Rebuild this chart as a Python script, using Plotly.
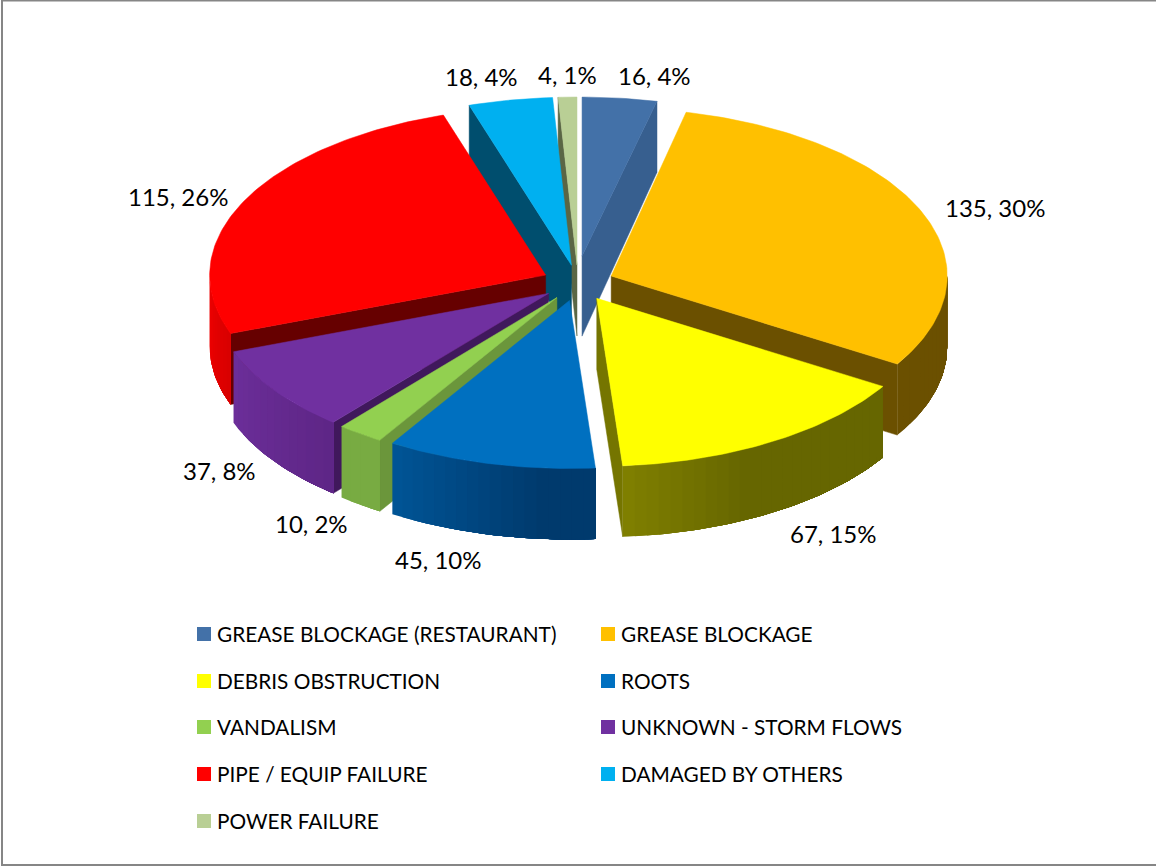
import math
import plotly.graph_objects as go

# ---- data ----
categories = ["GREASE BLOCKAGE (RESTAURANT)", "GREASE BLOCKAGE", "DEBRIS OBSTRUCTION", "ROOTS",
              "VANDALISM", "UNKNOWN - STORM FLOWS", "PIPE / EQUIP FAILURE", "DAMAGED BY OTHERS", "POWER FAILURE"]
values = [16, 135, 67, 45, 10, 37, 115, 18, 4]

# ---- styles ----
top_colors = ["#4371A8", "#FFC000", "#FFFF00", "#0070C0", "#92D050", "#7030A0", "#FF0000", "#00B0F0", "#B9CF95"]
rim_left = ["#375F8F", "#6B5000", "#808000", "#005597", "#78AB42", "#6C2E9A", "#F00000", "#004E6E", "#5A6645"]
rim_right = ["#375F8F", "#6B5000", "#666600", "#003A6D", "#78AB42", "#5E2686", "#D80000", "#004E6E", "#5A6645"]
rim_reach = [1, 1, 0.4, 0.75, 1, 1, 1, 1, 1]
radial_colors = ["#375F8F", "#6B5000", "#757500", "#005597", "#6B963B", "#40185C", "#660000", "#004E6E", "#5A6645"]
apex_lift = [9, 0, 0, 0, 0, 0, 0, 0, 0]
draw_order = [0, 8, 7, 1, 6, 5, 4, 2, 3]

# ---- layout constants (pixels of the 1156x867 page) ----
W, H = 1156, 867
CX, CY, RX, RY, EX, EY, DEPTH = 578, 283, 336, 168, 36, 18, 71
FONT = "Lato"
LABEL_SIZE = 24
LEGEND_SIZE = 20.8
label_pos = [(654, 75), (995, 207), (833, 533), (438, 559), (311, 523), (219, 470), (178, 196), (481, 76), (567, 74)]
legend_pos = [(197, 633), (601, 633), (197, 680), (601, 680), (197, 726), (601, 726), (197, 773), (601, 773), (197, 820)]
swatch_y_shift = 1


def hex2rgb(c):
    return [int(c[i:i + 2], 16) for i in (1, 3, 5)]


def mix(a, b, t):
    ra, rb = hex2rgb(a), hex2rgb(b)
    return "rgb(%d,%d,%d)" % tuple(round(x + (y - x) * t) for x, y in zip(ra, rb))


def poly(xs, ys, color, width=0.5):
    return go.Scatter(x=xs, y=ys, mode="lines", fill="toself", fillcolor=color,
                      line=dict(color=color, width=width), hoverinfo="skip", showlegend=False)


def rim_xy(ax, ay, a):
    r = math.radians(a)
    return ax + RX * math.sin(r), ay - RY * math.cos(r)


fig = go.Figure()
total = sum(values)
angles = [0]
for v in values:
    angles.append(angles[-1] + 360 * v / total)

for i in draw_order:
    s, e = angles[i], angles[i + 1]
    m = math.radians((s + e) / 2)
    ax, ay = CX + EX * math.sin(m), CY - EY * math.cos(m)
    ay_top = ay - apex_lift[i]

    # radial faces
    for a, visible in ((s, math.sin(math.radians(s)) < -1e-6), (e, math.sin(math.radians(e)) > 1e-6)):
        if visible:
            px, py = rim_xy(ax, ay, a)
            fig.add_trace(poly([ax, px, px, ax, ax], [ay_top, py, py + DEPTH, ay + DEPTH, ay_top], radial_colors[i]))

    # outer wall: painted from its left end to its right end, each pass over-painting
    # the rest of the wall, so that no seams appear between the shades
    lo, hi = max(s, 90), min(e, 270)
    if hi > lo:
        n = max(2, int((hi - lo) / 2))
        for k in range(n):
            a_right = lo
            a_left = hi - (hi - lo) * k / n
            u = (k + 0.5) / n
            t = min(1, u / rim_reach[i])
            col = mix(rim_left[i], rim_right[i], t)
            steps = max(3, int(a_left - a_right))
            pts = [rim_xy(ax, ay, a_left + (a_right - a_left) * j / steps) for j in range(steps + 1)]
            xs = [p[0] for p in pts] + [p[0] for p in reversed(pts)] + [pts[0][0]]
            ys = [p[1] for p in pts] + [p[1] + DEPTH for p in reversed(pts)] + [pts[0][1]]
            fig.add_trace(poly(xs, ys, col, width=0))

    # top face
    n = max(4, int(e - s))
    pts = [rim_xy(ax, ay, s + (e - s) * j / n) for j in range(n + 1)]
    fig.add_trace(poly([ax] + [p[0] for p in pts] + [ax], [ay_top] + [p[1] for p in pts] + [ay_top], top_colors[i]))

# data labels
for i, (v, (x, y)) in enumerate(zip(values, label_pos)):
    fig.add_annotation(x=x, y=y, text=f"{v}, {round(100 * v / total)}%", showarrow=False,
                       font=dict(family=FONT, size=LABEL_SIZE, color="#000000"),
                       xanchor="center", yanchor="middle")

# legend
for name, col, (x, y) in zip(categories, top_colors, legend_pos):
    fig.add_trace(go.Scatter(x=[x + 7], y=[y + swatch_y_shift], mode="markers", name=name, hoverinfo="name",
                             marker=dict(symbol="square", size=14, color=col, line=dict(width=0)),
                             showlegend=False))
    fig.add_annotation(x=x + 18, y=y, text=name, showarrow=False,
                       font=dict(family=FONT, size=LEGEND_SIZE, color="#000000"),
                       xanchor="left", yanchor="middle")

# chart frame
fig.add_shape(type="rect", x0=2, y0=0.5, x1=W + 10, y1=865, line=dict(color="#868686", width=2), layer="below")

fig.update_layout(
    width=W, height=H, margin=dict(l=0, r=0, t=0, b=0),
    paper_bgcolor="#FFFFFF", plot_bgcolor="#FFFFFF", showlegend=False,
    xaxis=dict(range=[0, W], visible=False, fixedrange=True),
    yaxis=dict(range=[H, 0], visible=False, fixedrange=True),
)
fig.write_html("out.html", post_script="document.body.style.margin='0';window.dispatchEvent(new Event('resize'));",
               config={"displayModeBar": False})
